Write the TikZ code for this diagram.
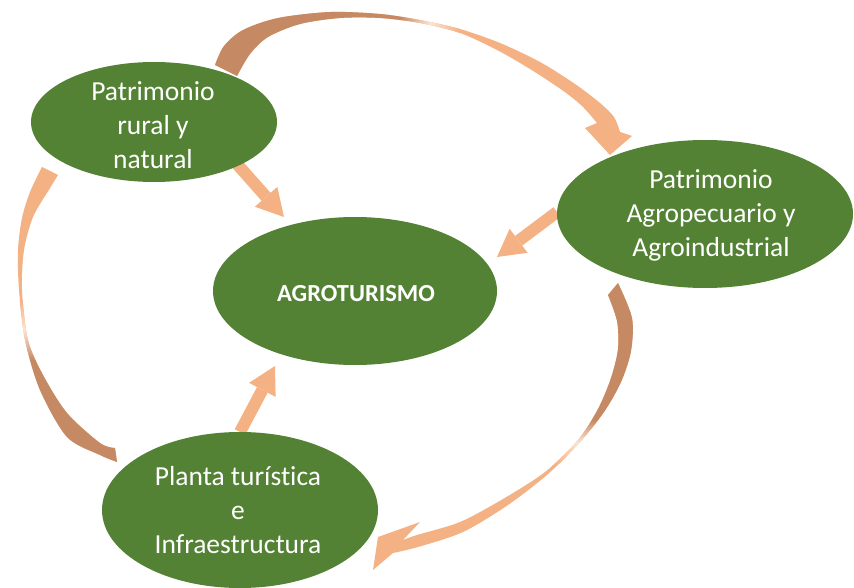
\documentclass[tikz,border=0pt]{standalone}
\usepackage{fontspec}
\setmainfont[Ligatures={NoCommon}]{Carlito}
\usetikzlibrary{arrows.meta,backgrounds,shapes.geometric}
\definecolor{leaf}{HTML}{548235}
\definecolor{peach}{HTML}{F4B183}
\definecolor{bark}{HTML}{C58A64}
\def\ArcA{(215,65) -- plot[smooth] coordinates {(215,65) (224,46) (243,30) (278,18) (330,12) (380,14) (420,20) (460,29) (500,43) (540,62) (575,84) (600,103) (614,117) (620,132)} -- (632,136) -- (610,155) -- (585,128) -- (597,123) -- plot[smooth] coordinates {(597,123) (582,106) (562,90) (530,69) (497,50) (460,33) (420,23) (380,18) (340,18) (300,24) (268,37) (250,54) (237,76)} -- cycle}
\def\ArcB{(117,462) -- plot[smooth] coordinates {(117,462) (100,455) (67,437) (40,390) (25,340) (19,290) (18,250) (22,218) (30,192) (42,167)} -- (58,175) -- (47,193) -- plot[smooth] coordinates {(47,193) (33,217) (24,250) (22,290) (28,340) (43,375) (67,413) (100,443) (115,448)} -- cycle}
\def\ArcC{(618,283) -- plot[smooth] coordinates {(618,283) (632,318) (631,351) (621,382) (604,412) (580,442) (548,474) (508,505) (463,532) (418,547) (393,553)} -- (373,570) -- (378,537) -- (420,522) -- (403,540) -- plot[smooth] coordinates {(403,540) (417,535) (460,522) (503,499) (545,472) (578,440) (598,409) (611,378) (618,349) (617,321) (608,295)} -- cycle}
\begin{document}
\begin{tikzpicture}[x=1pt,y=-1pt,
  blob/.style={ellipse, fill=leaf, inner sep=0pt},
  lbl/.style={text=white, align=center, inner sep=0pt, font=\fontsize{27.5}{34}\selectfont},
  fat/.style={draw=peach, line width=12pt, -{Triangle[length=27pt,width=30pt,line width=0pt]}},
]
\useasboundingbox (0,0) rectangle (854,588);

% ellipses
\node[blob, minimum width=246pt, minimum height=120pt] (rural) at (154,122) {};
\node[blob, minimum width=296pt, minimum height=148pt] (agropec) at (705,214) {};
\node[blob, minimum width=284pt, minimum height=148pt] (agro) at (355,291) {};
\node[blob, minimum width=276pt, minimum height=156pt] (planta) at (240,510) {};

% labels
\node[lbl] (truralt) at (153,125) {Patrimonio\\rural y\\natural};
\node[lbl] (tagropec) at (711,215) {Patrimonio\\Agropecuario y\\Agroindustrial};
\node[lbl, font=\fontsize{24.5}{30}\selectfont\bfseries] (tagro) at (356,293.5) {AGROTURISMO};
\node[lbl] (tplanta) at (238,510) {Planta turística\\e\\Infraestructura};

% arrow end points
\coordinate (s1) at (237,164);
\coordinate (e1) at (284,217);
\coordinate (s2) at (557,212);
\coordinate (e2) at (497,257);
\coordinate (s3) at (240,432);
\coordinate (e3) at (275,366);

\begin{pgfonlayer}{background}
  \draw[fat] (s1) -- (e1);
  \draw[fat] (s2) -- (e2);
  \draw[fat] (s3) -- (e3);

  % curved arrow: rural -> agropecuario
  \begin{scope}
    \clip \ArcA;
    \fill[peach] (200,0) rectangle (660,170);
    \fill[bark] (200,0) rectangle (400,170);
    \shade[left color=bark, right color=peach, middle color=peach!35] (400,0) rectangle (460,170);
  \end{scope}
  % curved arrow: planta -> rural
  \begin{scope}
    \clip \ArcB;
    \fill[peach] (0,150) rectangle (130,470);
    \fill[bark] (0,360) rectangle (130,470);
    \shade[top color=peach, bottom color=bark, middle color=peach!35] (0,300) rectangle (130,360);
  \end{scope}
  % curved arrow: agropecuario -> planta
  \begin{scope}
    \clip \ArcC;
    \fill[peach] (360,270) rectangle (650,580);
    \fill[bark] (360,270) rectangle (650,420);
    \shade[top color=bark, bottom color=peach, middle color=peach!35] (360,420) rectangle (650,465);
  \end{scope}
\end{pgfonlayer}
\end{tikzpicture}
\end{document}
